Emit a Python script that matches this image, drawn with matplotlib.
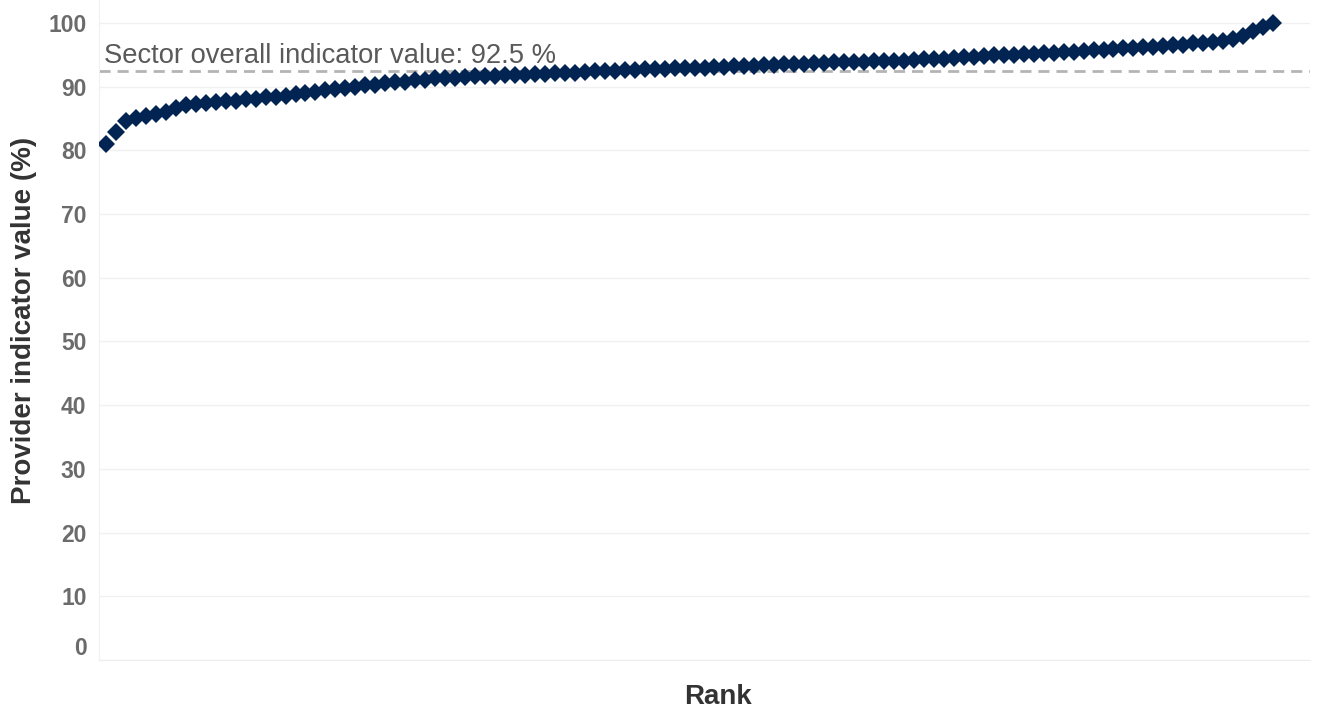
import matplotlib.pyplot as plt
import numpy as np

plt.rcParams['font.family'] = ['Liberation Sans', 'DejaVu Sans']

# provider values, sorted ascending
values = [
    81.0, 82.9, 84.6, 85.0, 85.4, 85.7, 86.0, 86.6,
    87.1, 87.3, 87.4, 87.6, 87.7, 87.8, 88.0, 88.1, 88.3, 88.4,
    88.6, 88.8, 89.0, 89.2, 89.5, 89.7, 89.8, 90.0, 90.2, 90.3, 90.5, 90.7,
    90.8, 91.0, 91.1, 91.3,
    91.4, 91.4, 91.5, 91.6, 91.6, 91.7, 91.8, 91.8, 91.9, 92.0, 92.0, 92.1,
    92.2, 92.2, 92.3, 92.4, 92.4, 92.5,
    92.6, 92.6, 92.7, 92.8, 92.8, 92.9, 92.9, 93.0, 93.0, 93.1, 93.1, 93.2,
    93.2, 93.3, 93.4, 93.4, 93.5,
    93.6, 93.6, 93.7, 93.7, 93.8, 93.8, 93.9, 93.9, 94.0, 94.0, 94.1, 94.1,
    94.2, 94.3, 94.3, 94.4, 94.5,
    94.6, 94.7, 94.8, 94.9, 94.9, 95.0, 95.1, 95.2, 95.3, 95.3, 95.4, 95.5,
    95.6, 95.7, 95.8, 95.9, 96.0,
    96.1, 96.2, 96.3, 96.4, 96.5, 96.6, 96.8, 96.9, 97.0, 97.2,
    97.4, 98.0, 98.7, 99.4, 100.0,
]
sector_value = 92.5
y_ticks = [0, 10, 20, 30, 40, 50, 60, 70, 80, 90, 100]

rank = np.arange(len(values))

fig = plt.figure(figsize=(13.25, 7.08), dpi=100)
ax = fig.add_axes([99 / 1325, 1 - 660 / 708, (1310 - 99) / 1325, 660 / 708])

ax.axhline(sector_value, color='#b4b4b4', linewidth=2, linestyle=(0, (4, 2.5)), zorder=2)
ax.plot(rank, values, linestyle='none', marker='D', markersize=9.5,
        color='#022452', markeredgewidth=0, zorder=3)

ax.text(-0.2, sector_value + 1.2, f"Sector overall indicator value: {sector_value} %",
        fontsize=19.7, color='#595959', va='baseline', ha='left')

ax.set_xlim(-0.7, len(values) + 2.7)
ax.set_ylim(0, 103.6)
ax.set_yticks(y_ticks)
ax.set_yticklabels([str(t) for t in y_ticks], fontsize=16.5, fontweight='bold', color='#6b6b6b')
ax.get_yticklabels()[0].set_va('bottom')
ax.set_xticks([])
ax.tick_params(axis='y', length=0, pad=9)

ax.grid(axis='y', color='#f0f0f0', linewidth=1)
ax.set_axisbelow(True)
for s in ['top', 'right']:
    ax.spines[s].set_visible(False)
ax.spines['left'].set_color('#f0f0f0')
ax.spines['bottom'].set_color('#ededed')

ax.set_ylabel("Provider indicator value (%)", fontsize=20, fontweight='bold', color='#333333')
ax.yaxis.set_label_coords(-0.051, 0.514)
ax.set_xlabel("Rank", fontsize=20, fontweight='bold', color='#333333')
ax.xaxis.set_label_coords(0.511, -0.036)

plt.savefig('out.png', dpi=100)
